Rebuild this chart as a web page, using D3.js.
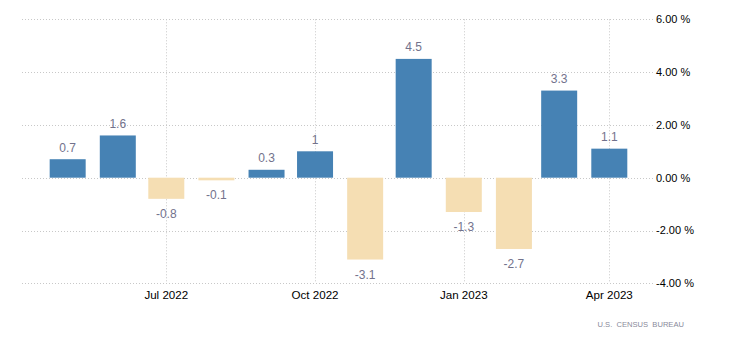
<!DOCTYPE html>
<html><head><meta charset="utf-8">
<script src="https://cdn.jsdelivr.net/npm/d3@7"></script>
<style>
html,body{margin:0;padding:0;background:#fff;}
svg{display:block;font-family:"Liberation Sans",Arial,sans-serif;}
</style></head>
<body><svg id="c" width="730" height="349"></svg>
<script>
const months = ["2022-05","2022-06","2022-07","2022-08","2022-09","2022-10","2022-11","2022-12","2023-01","2023-02","2023-03","2023-04"];
const values = [0.7, 1.6, -0.8, -0.1, 0.3, 1, -3.1, 4.5, -1.3, -2.7, 3.3, 1.1];
const yTicks = [-4, -2, 0, 2, 4, 6];
const xTickMonths = ["2022-07","2022-10","2023-01","2023-04"];
const source = "U.S.  CENSUS  BUREAU";

const parse = d3.timeParse("%Y-%m");
const data = months.map((m,i)=>({date:parse(m), v:values[i]}));
const hyph = s => s.replace("\u2212", "-");

const svg = d3.select("#c");
const left = 22, right = 653;
const x = d3.scaleTime()
  .domain([parse("2022-07"), parse("2023-04")])
  .range([166.3, 609.3]);
const y = d3.scaleLinear().domain([-4, 6]).range([283.3, 19.3]);
const barW = 36;

// horizontal grid
svg.append("g").selectAll("line").data(yTicks).join("line")
  .attr("x1", left).attr("x2", right)
  .attr("y1", d=>Math.round(y(d))+0.5).attr("y2", d=>Math.round(y(d))+0.5)
  .attr("stroke", "#c8c8c8").attr("stroke-dasharray", "1,2");
// vertical grid
const xt = xTickMonths.map(parse);
svg.append("g").selectAll("line").data(xt).join("line")
  .attr("x1", d=>Math.round(x(d))+0.5).attr("x2", d=>Math.round(x(d))+0.5)
  .attr("y1", y(6)).attr("y2", y(-4))
  .attr("stroke", "#c8c8c8").attr("stroke-dasharray", "1,2");

// bars
svg.append("g").selectAll("rect").data(data).join("rect")
  .attr("x", d=>x(d.date)-barW/2)
  .attr("width", barW)
  .attr("y", d=>y(Math.max(0,d.v)))
  .attr("height", d=>Math.abs(y(d.v)-y(0)))
  .attr("fill", d=>d.v>=0 ? "#4682b4" : "#f5deb3");

// value labels
svg.append("g").selectAll("text").data(data).join("text")
  .attr("x", d=>x(d.date))
  .attr("y", d=> d.v>=0 ? y(d.v)-7.5 : y(d.v)+19)
  .attr("text-anchor","middle")
  .attr("font-size", 12)
  .attr("fill", "#72728c")
  .text(d=>hyph(d3.format("")(d.v)));

// x axis labels
svg.append("g").selectAll("text").data(xt).join("text")
  .attr("x", d=>x(d))
  .attr("y", 299)
  .attr("text-anchor","middle")
  .attr("font-size", 11.6)
  .attr("fill", "#000")
  .text(d3.timeFormat("%b %Y"));

// y axis labels
svg.append("g").selectAll("text").data(yTicks).join("text")
  .attr("x", 656)
  .attr("y", d=>y(d))
  .attr("dy", "0.36em")
  .attr("font-size", 11)
  .attr("fill", "#000")
  .text(d=>hyph(d3.format(".2f")(d))+" %");

// source
svg.append("text")
  .attr("x", 684).attr("y", 327)
  .attr("text-anchor","end")
  .attr("font-size", 7.6)
  .attr("fill", "#8a8a9a")
  .attr("xml:space","preserve")
  .style("white-space","pre")
  .text(source);
</script>
</body></html>
